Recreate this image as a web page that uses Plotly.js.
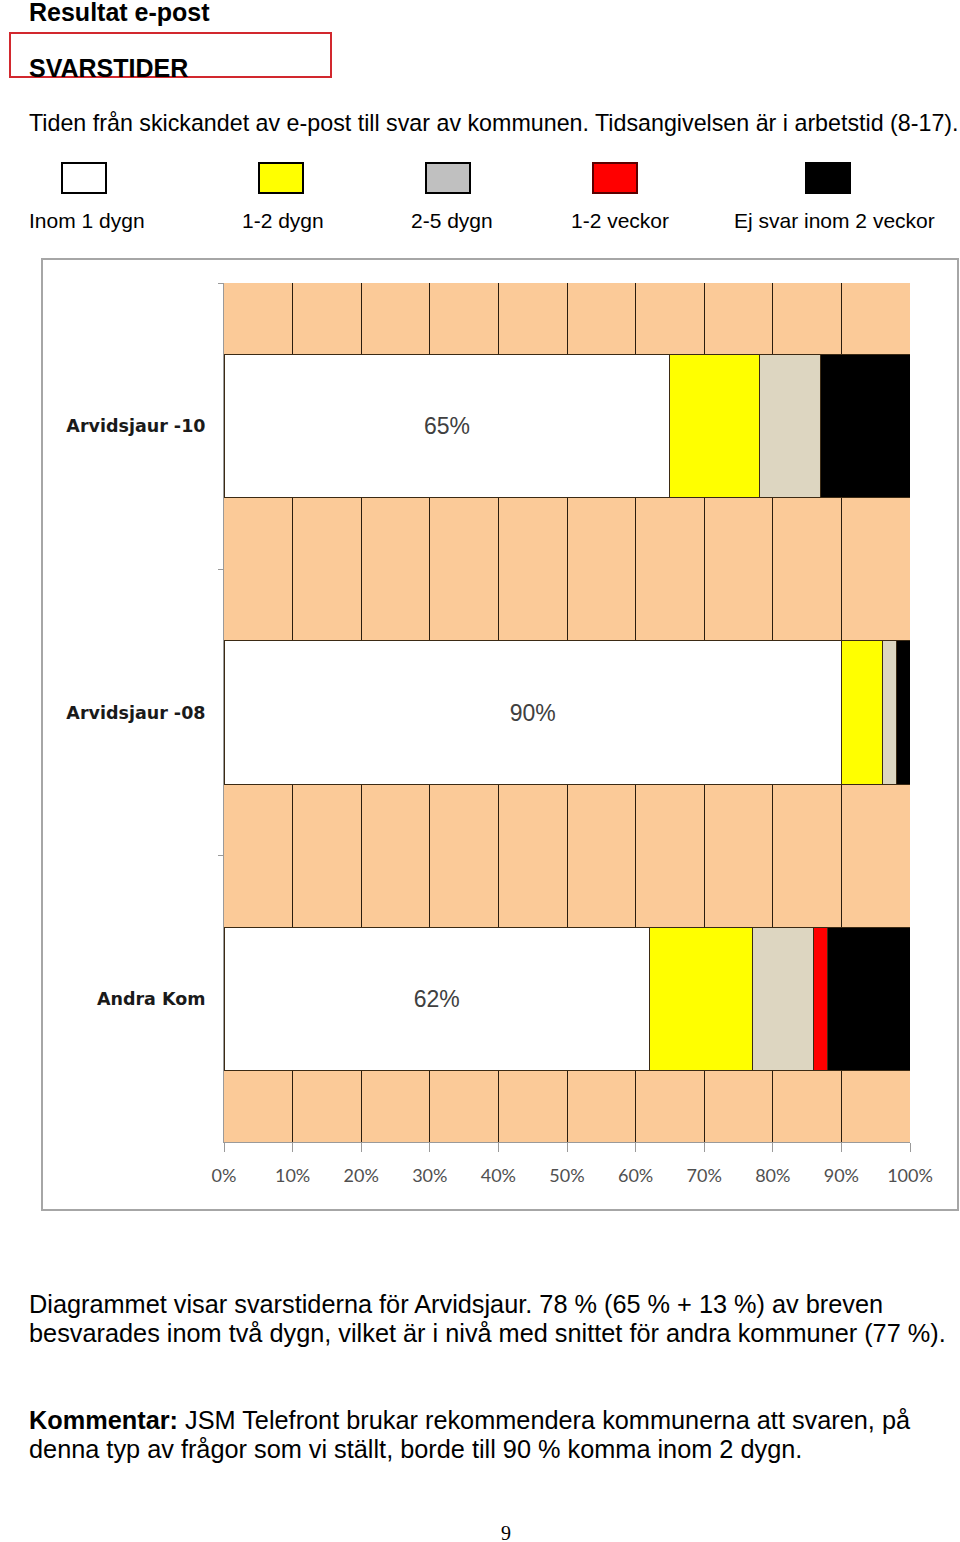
<!DOCTYPE html>
<html>
<head>
<meta charset="utf-8">
<script src="https://cdn.plot.ly/plotly-3.0.1.min.js"></script>
<style>
  html, body { margin:0; padding:0; background:#fff; }
  body { width:960px; height:1542px; position:relative; overflow:hidden; font-family:"Liberation Sans", Arial, sans-serif; color:#000; }
  .t { position:absolute; white-space:nowrap; line-height:1; }
  .sw { position:absolute; width:42px; height:28px; border:2px solid #000; top:162px; }
  #box { position:absolute; left:9px; top:32px; width:319px; height:42px; border:2px solid #d2282e; }
  #chartwrap { position:absolute; left:41px; top:258px; width:914px; height:949px; border:2px solid #a6a6a6; }
  #chart { width:914px; height:949px; }
</style>
</head>
<body>
<div class="t" style="left:29px; top:0px; font-size:25px; font-weight:bold;">Resultat e-post</div>
<div id="box"></div>
<div class="t" style="left:29px; top:56px; font-size:25px; font-weight:bold;">SVARSTIDER</div>
<div class="t" style="left:29px; top:112px; font-size:23.25px;">Tiden från skickandet av e-post till svar av kommunen. Tidsangivelsen är i arbetstid (8-17).</div>

<div id="legend"></div>

<div id="chartwrap"><div id="chart"></div></div>

<div class="t" style="left:29px; top:1290px; font-size:25.3px; line-height:29px;">Diagrammet visar svarstiderna för Arvidsjaur. 78 % (65 % + 13 %) av breven<br>besvarades inom två dygn, vilket är i nivå med snittet för andra kommuner (77 %).</div>
<div class="t" style="left:29px; top:1406px; font-size:25.3px; line-height:29px;"><b>Kommentar:</b> JSM Telefront brukar rekommendera kommunerna att svaren, på<br>denna typ av frågor som vi ställt, borde till 90 % komma inom 2 dygn.</div>
<div class="t" style="left:501px; top:1523px; font-size:20px; font-family:'Liberation Serif', serif;">9</div>

<script>
// ---- data ----
const categories = ["Arvidsjaur -10", "Arvidsjaur -08", "Andra Kom"];
const seriesNames = ["Inom 1 dygn", "1-2 dygn", "2-5 dygn", "1-2 veckor", "Ej svar inom 2 veckor"];
const inom1dygn   = [65, 90, 62];
const dygn1_2     = [13, 6, 15];
const dygn2_5     = [9, 2, 9];
const veckor1_2   = [0, 0, 2];
const ejSvar      = [13, 2, 12];
const xTickVals   = [0, 10, 20, 30, 40, 50, 60, 70, 80, 90, 100];
const xTickText   = ["0%", "10%", "20%", "30%", "40%", "50%", "60%", "70%", "80%", "90%", "100%"];

// ---- styles ----
const barColors    = ["#ffffff", "#ffff00", "#ddd6c1", "#ff0000", "#000000"];
const swatchColors = ["#ffffff", "#ffff00", "#c0c0c0", "#ff0000", "#000000"];
const swatchLeft   = [61, 258, 425, 592, 805];
const labelLeft    = [29, 242, 411, 571, 734];

// legend (HTML)
const leg = document.getElementById("legend");
seriesNames.forEach((name, i) => {
  const s = document.createElement("div");
  s.className = "sw";
  s.style.left = swatchLeft[i] + "px";
  s.style.background = swatchColors[i];
  if (i === 3) s.style.borderColor = "#5a0000";
  leg.appendChild(s);
  const l = document.createElement("div");
  l.className = "t";
  l.style.left = labelLeft[i] + "px";
  l.style.top = "210px";
  l.style.fontSize = "21px";
  l.textContent = name;
  leg.appendChild(l);
});

const allSeries = [inom1dygn, dygn1_2, dygn2_5, veckor1_2, ejSvar];
const traces = allSeries.map((vals, i) => ({
  type: "bar",
  orientation: "h",
  name: seriesNames[i],
  y: categories,
  x: vals,
  marker: { color: barColors[i], line: { color: "#3b2a14", width: 1 } },
  text: i === 0 ? vals.map(v => v + "%") : undefined,
  textposition: i === 0 ? "inside" : "none",
  insidetextanchor: "middle",
  textangle: 0,
  textfont: { family: "Liberation Sans, Arial, sans-serif", size: 23, color: "#404040" },
  hoverinfo: "skip"
}));

const layout = {
  width: 914, height: 949,
  margin: { l: 181, r: 47, t: 23, b: 67 },
  paper_bgcolor: "#ffffff",
  plot_bgcolor: "#fbca98",
  barmode: "stack",
  bargap: 0.5,
  showlegend: false,
  xaxis: {
    range: [0, 100],
    tickvals: xTickVals,
    ticktext: xTickText,
    showgrid: true,
    gridcolor: "#2b1d0e",
    gridwidth: 1,
    zeroline: false,
    showline: true,
    linecolor: "#9a9a9a",
    linewidth: 1,
    ticks: "outside",
    ticklen: 9,
    tickcolor: "#9a9a9a",
    ticklabelstandoff: 8,
    tickfont: { family: "Lato, sans-serif", size: 18, color: "#505050" },
    fixedrange: true
  },
  yaxis: {
    type: "category",
    categoryorder: "array",
    categoryarray: categories,
    autorange: "reversed",
    showgrid: false,
    zeroline: false,
    showline: true,
    linecolor: "#9a9a9a",
    linewidth: 1,
    ticks: "outside",
    tickson: "boundaries",
    ticklen: 5,
    tickcolor: "#9a9a9a",
    ticklabelstandoff: 14,
    tickfont: { family: "DejaVu Sans, Verdana, sans-serif", size: 17.5, color: "#1a1a1a", weight: "bold" },
    fixedrange: true
  }
};

Plotly.newPlot("chart", traces, layout, { staticPlot: true, displayModeBar: false });
</script>
</body>
</html>
